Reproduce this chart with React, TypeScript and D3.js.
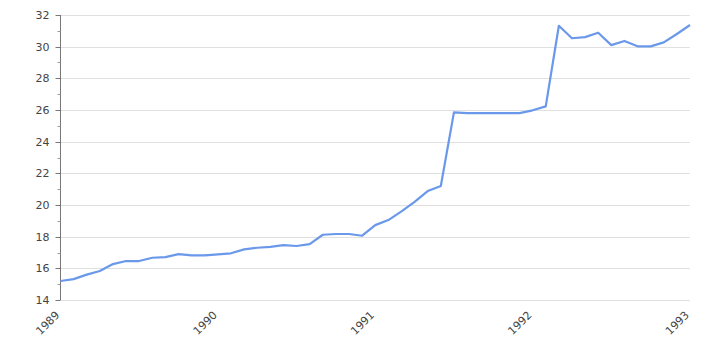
import React from "react";
import * as d3 from "d3";

const values: number[] = [
  15.2, 15.32, 15.6, 15.83, 16.27, 16.46, 16.46, 16.67, 16.71, 16.9, 16.82, 16.82,
  16.88, 16.95, 17.2, 17.3, 17.35, 17.47, 17.41, 17.53, 18.12, 18.17, 18.17, 18.06,
  18.73, 19.05, 19.6, 20.2, 20.88, 21.2, 25.85, 25.8, 25.8, 25.8, 25.8, 25.8,
  25.98, 26.23, 31.32, 30.53, 30.6, 30.88, 30.1, 30.36, 30.02, 30.02, 30.27, 30.8,
  31.37,
];
const yearLabels: string[] = ["1989", "1990", "1991", "1992", "1993"];
const yTicks: number[] = [14, 16, 18, 20, 22, 24, 26, 28, 30, 32];

const W = 720, H = 350;
const left = 60.5, right = 690, top = 15, bottom = 300;

export default function App() {
  const x = d3.scaleLinear().domain([0, values.length - 1]).range([left, right]);
  const y = d3.scaleLinear().domain([14, 32]).range([bottom, top]);
  const line = d3.line<number>().x((_, i) => x(i)).y((d) => y(d));
  const minor = d3.range(15, 32, 2);
  const font = "DejaVu Sans, sans-serif";
  return (
    <svg width={W} height={H} style={{ position: "absolute", left: 0, top: 0 }}>
      <rect width={W} height={H} fill="#fff" />
      {yTicks.map((t) => (
        <line key={t} x1={left} x2={right} y1={Math.round(y(t)) + 0.5} y2={Math.round(y(t)) + 0.5} stroke="#e0e0e0" />
      ))}
      <line x1={left} x2={left} y1={top} y2={bottom} stroke="#777" />
      {yTicks.map((t) => (
        <g key={"t" + t}>
          <line x1={left - 5} x2={left} y1={Math.round(y(t)) + 0.5} y2={Math.round(y(t)) + 0.5} stroke="#777" />
          <text x={left - 11} y={y(t)} dy="0.35em" textAnchor="end" fontSize={11} fill="#444" fontFamily={font}>
            {t}
          </text>
        </g>
      ))}
      {minor.map((t) => (
        <line key={"m" + t} x1={left - 3} x2={left} y1={Math.round(y(t)) + 0.5} y2={Math.round(y(t)) + 0.5} stroke="#999" />
      ))}
      {yearLabels.map((lab, i) => {
        const xx = x(i * 12);
        return (
          <text key={lab} transform={`translate(${xx - 3},${bottom + 13}) rotate(-45)`} textAnchor="end" dy="0.35em" fontSize={11} fill="#444" fontFamily={font}>
            {lab}
          </text>
        );
      })}
      <path d={line(values) || ""} fill="none" stroke="#6a98ea" strokeWidth={2.2} strokeLinejoin="round" />
    </svg>
  );
}
